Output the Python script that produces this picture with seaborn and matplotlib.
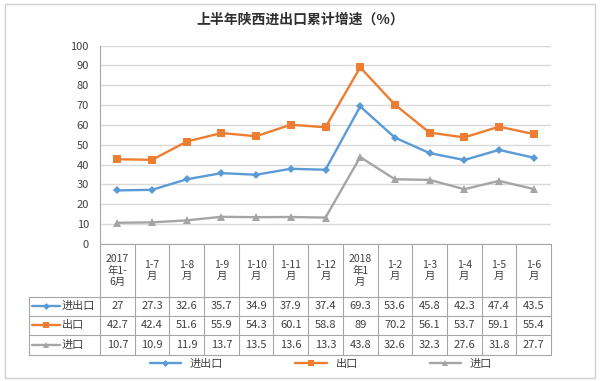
import seaborn as sns
import matplotlib.pyplot as plt
import matplotlib.transforms as mtransforms
from matplotlib.lines import Line2D
from matplotlib.patches import Rectangle
import pandas as pd

periods = ['2017\n年1-\n6月', '1-7\n月', '1-8\n月', '1-9\n月', '1-10\n月', '1-11\n月',
           '1-12\n月', '2018\n年1\n月', '1-2\n月', '1-3\n月', '1-4\n月', '1-5\n月', '1-6\n月']
jinchukou = [27, 27.3, 32.6, 35.7, 34.9, 37.9, 37.4, 69.3, 53.6, 45.8, 42.3, 47.4, 43.5]
chukou = [42.7, 42.4, 51.6, 55.9, 54.3, 60.1, 58.8, 89, 70.2, 56.1, 53.7, 59.1, 55.4]
jinkou = [10.7, 10.9, 11.9, 13.7, 13.5, 13.6, 13.3, 43.8, 32.6, 32.3, 27.6, 31.8, 27.7]
series_names = ['进出口', '出口', '进口']
series_vals = [jinchukou, chukou, jinkou]
colors = ['#5B9BD5', '#ED7D31', '#A5A5A5']
markers = ['D', 's', '^']
msizes = [4, 5.5, 5.5]

sns.set_style('white')
plt.rcParams['font.family'] = ['Noto Sans CJK SC', 'DejaVu Sans']

rows = []
for name, vals in zip(series_names, series_vals):
    for i, v in enumerate(vals):
        rows.append({'期间': i, '系列': name, '增速': v})
df = pd.DataFrame(rows)

fig = plt.figure(figsize=(6, 3.81), dpi=100)
ax = fig.add_axes([100 / 600, 1 - 244 / 381, 451 / 600, 198.5 / 381])
sns.lineplot(data=df, x='期间', y='增速', hue='系列', style='系列', hue_order=series_names,
             style_order=series_names, markers=markers, dashes=False, palette=colors,
             linewidth=1.7, markeredgewidth=0, legend=False, ax=ax)
for line, ms in zip(ax.lines, msizes):
    line.set_markersize(ms)

ax.set_xlim(-0.5, 12.5)
ax.set_ylim(0, 100)
ax.set_yticks(range(0, 101, 10))
ax.set_xticks([])
ax.set_xlabel('')
ax.set_ylabel('')
ax.tick_params(axis='y', length=0, labelsize=8, labelcolor='#404040', pad=8)
ax.grid(axis='y', color='#D9D9D9', linewidth=1)
for s in ['top', 'right', 'bottom']:
    ax.spines[s].set_visible(False)
ax.spines['left'].set_color('#A6A6A6')

# data table under the chart
tc = '#A6A6A6'
txt = '#404040'
tr = mtransforms.blended_transform_factory(ax.transData, ax.transAxes)
y_head = -0.267
row_y = [-0.267, -0.3627, -0.458, -0.559]
x_lab = (29 - 100) / 451

for i in range(14):
    ax.add_line(Line2D([i - 0.5, i - 0.5], [0, row_y[-1]], transform=tr, color=tc,
                       lw=0.8, clip_on=False))
ax.add_line(Line2D([-0.5, 12.5], [0, 0], transform=tr, color=tc, lw=0.8, clip_on=False))
for y in row_y:
    ax.add_line(Line2D([x_lab, 1], [y, y], transform=ax.transAxes, color=tc, lw=0.8,
                       clip_on=False))
ax.add_line(Line2D([x_lab, x_lab], [row_y[0], row_y[-1]], transform=ax.transAxes,
                   color=tc, lw=0.8, clip_on=False))

for i, p in enumerate(periods):
    ax.text(i, y_head / 2, p, transform=tr, ha='center', va='center', fontsize=7.5,
            color=txt, linespacing=1.15)

for r, (name, vals, c, m, ms) in enumerate(zip(series_names, series_vals, colors, markers, msizes)):
    yc = (row_y[r] + row_y[r + 1]) / 2
    for i, v in enumerate(vals):
        ax.text(i, yc, f'{v:g}', transform=tr, ha='center', va='center', fontsize=8,
                color=txt)
    x0, x1 = (32 - 100) / 451, (60 - 100) / 451
    ax.add_line(Line2D([x0, x1], [yc, yc], transform=ax.transAxes, color=c, lw=1.7,
                       clip_on=False))
    ax.add_line(Line2D([(x0 + x1) / 2], [yc], transform=ax.transAxes, color=c, marker=m,
                       ms=ms - 0.5, mew=0, clip_on=False))
    ax.text((62 - 100) / 451, yc, name, transform=ax.transAxes, ha='left', va='center',
            fontsize=8, color=txt)

handles = [Line2D([], [], color=c, marker=m, ms=ms - 0.5, mew=0, lw=1.7)
           for c, m, ms in zip(colors, markers, msizes)]
fig.legend(handles, series_names, loc='center', bbox_to_anchor=(0.535, 1 - 364 / 381),
           ncol=3, frameon=False, columnspacing=6.5, handlelength=2.8, fontsize=8,
           labelcolor=txt)

fig.text(0.5, 1 - 20 / 381, '上半年陕西进出口累计增速（%）', ha='center', va='center',
         fontsize=10, fontweight='bold', color='#303030')
fig.add_artist(Rectangle((5 / 600, 3 / 381), 590 / 600, 374 / 381, transform=fig.transFigure,
                         fill=False, ec='#D0D0D0', lw=1))

fig.savefig('out.png', dpi=100)
